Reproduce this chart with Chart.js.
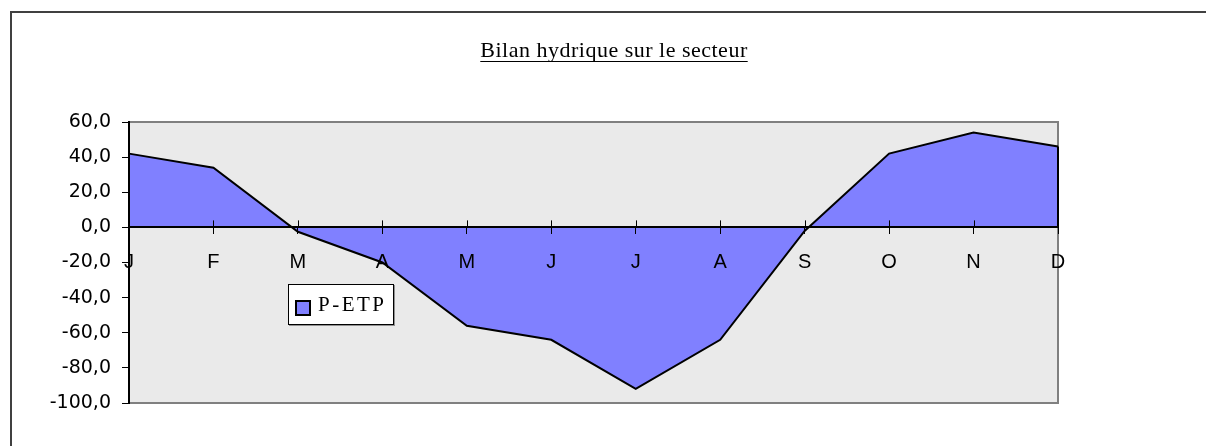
<!DOCTYPE html>
<html>
<head>
<meta charset="utf-8">
<script src="https://cdn.jsdelivr.net/npm/chart.js@4.4.0/dist/chart.umd.min.js"></script>
<style>
  html, body { margin: 0; padding: 0; background: #fff; }
  #wrap { width: 1206px; height: 446px; position: relative; }
</style>
</head>
<body>
<div id="wrap"><canvas id="chart"></canvas></div>
<script>
const months = ['J', 'F', 'M', 'A', 'M', 'J', 'J', 'A', 'S', 'O', 'N', 'D']
const pEtp = [42, 34, -2.5, -20, -56, -64, -92, -64, -2, 42, 54, 46]
const seriesLabel = 'P-ETP'
const chartTitle = 'Bilan hydrique sur le secteur'
const yMin = -100
const yMax = 60
const yStep = 20

const fillColor = '#8080FF'
const yFont = { family: 'DejaVu Sans', size: 19 }
const xFont = { family: 'Liberation Sans', size: 20 }

// background, outer frame, plot area
const framePlugin = {
	id: 'frame',
	beforeDraw(chart) {
		const { ctx, chartArea: a, width, height } = chart
		ctx.save()
		ctx.fillStyle = '#fff'
		ctx.fillRect(0, 0, width, height)
		ctx.strokeStyle = '#404040'
		ctx.lineWidth = 2
		ctx.beginPath()
		ctx.moveTo(11, height)
		ctx.lineTo(11, 12)
		ctx.lineTo(width, 12)
		ctx.stroke()
		ctx.fillStyle = '#EAEAEA'
		ctx.fillRect(a.left, a.top, a.right - a.left, a.bottom - a.top)
		ctx.strokeStyle = '#808080'
		ctx.lineWidth = 2
		ctx.strokeRect(a.left, a.top, a.right - a.left, a.bottom - a.top)
		ctx.restore()
	}
}

// title, legend, tick crosses, closing edge of the area
const extrasPlugin = {
	id: 'extras',
	afterDraw(chart) {
		const { ctx, chartArea: a } = chart
		const x = chart.scales.x
		const y = chart.scales.y
		const zero = y.getPixelForValue(0)
		ctx.save()

		// upper half of the category ticks
		ctx.strokeStyle = '#000'
		ctx.lineWidth = 1
		x.ticks.forEach((t, i) => {
			const px = Math.round(x.getPixelForTick(i)) + 0.5
			ctx.beginPath()
			ctx.moveTo(px, zero - 7)
			ctx.lineTo(px, zero)
			ctx.stroke()
		})

		// vertical edge at the last point
		const last = pEtp.length - 1
		ctx.lineWidth = 2
		ctx.beginPath()
		ctx.moveTo(x.getPixelForValue(last), y.getPixelForValue(pEtp[last]))
		ctx.lineTo(x.getPixelForValue(last), zero)
		ctx.stroke()

		// title
		ctx.fillStyle = '#000'
		ctx.font = '22px "Liberation Serif"'
		ctx.letterSpacing = '0.5px'
		ctx.textAlign = 'center'
		ctx.textBaseline = 'alphabetic'
		const tx = 614
		ctx.fillText(chartTitle, tx, 57)
		const tw = ctx.measureText(chartTitle).width
		ctx.lineWidth = 1
		ctx.beginPath()
		ctx.moveTo(tx - tw / 2, 61.5)
		ctx.lineTo(tx + tw / 2, 61.5)
		ctx.stroke()

		// legend box
		const lx = a.left + 159
		const ly = a.top + 162
		ctx.fillStyle = '#909090'
		ctx.fillRect(lx + 1, ly + 1, 106, 41)
		ctx.fillStyle = '#fff'
		ctx.fillRect(lx, ly, 106, 41)
		ctx.strokeStyle = '#000'
		ctx.lineWidth = 1
		ctx.strokeRect(lx + 0.5, ly + 0.5, 105, 40)
		ctx.fillStyle = fillColor
		ctx.fillRect(lx + 8, ly + 17, 14, 14)
		ctx.lineWidth = 2
		ctx.strokeRect(lx + 8, ly + 17, 14, 14)
		ctx.fillStyle = '#000'
		ctx.font = '21px "Liberation Serif"'
		ctx.letterSpacing = '2.5px'
		ctx.textAlign = 'left'
		ctx.fillText(chart.data.datasets[0].label, lx + 30, ly + 27)
		ctx.restore()
	}
}

new Chart(document.getElementById('chart'), {
	type: 'line',
	data: {
		labels: months,
		datasets: [{
			label: seriesLabel,
			data: pEtp,
			borderColor: '#000',
			borderWidth: 2,
			backgroundColor: fillColor,
			fill: 'origin',
			tension: 0,
			pointRadius: 0,
		}],
	},
	options: {
		responsive: true,
		maintainAspectRatio: false,
		animation: false,
		events: [],
		layout: {
			padding: { left: 0, right: 148, top: 122, bottom: 43 }
		},
		plugins: {
			legend: { display: false },
			title: { display: false },
			tooltip: { enabled: false },
		},
		scales: {
			x: {
				type: 'category',
				position: { y: 0 },
				offset: false,
				grid: { z: 1, drawOnChartArea: false, drawTicks: true, tickLength: 6, color: '#000', lineWidth: 1 },
				border: { z: 1, color: '#000', width: 2 },
				ticks: { z: 1, autoSkip: false, maxRotation: 0, padding: 17, color: '#000', font: xFont },
			},
			y: {
				min: yMin,
				max: yMax,
				afterFit(scale) { scale.width = 129 },
				grid: { z: 1, drawOnChartArea: false, drawTicks: true, tickLength: 7, color: '#000', lineWidth: 1 },
				border: { z: 1, color: '#000', width: 2 },
				ticks: {
					z: 1,
					stepSize: yStep,
					padding: 11,
					color: '#000',
					font: yFont,
					callback: v => v.toFixed(1).replace('.', ','),
				},
			},
		},
	},
	plugins: [framePlugin, extrasPlugin],
})
</script>
</body>
</html>
